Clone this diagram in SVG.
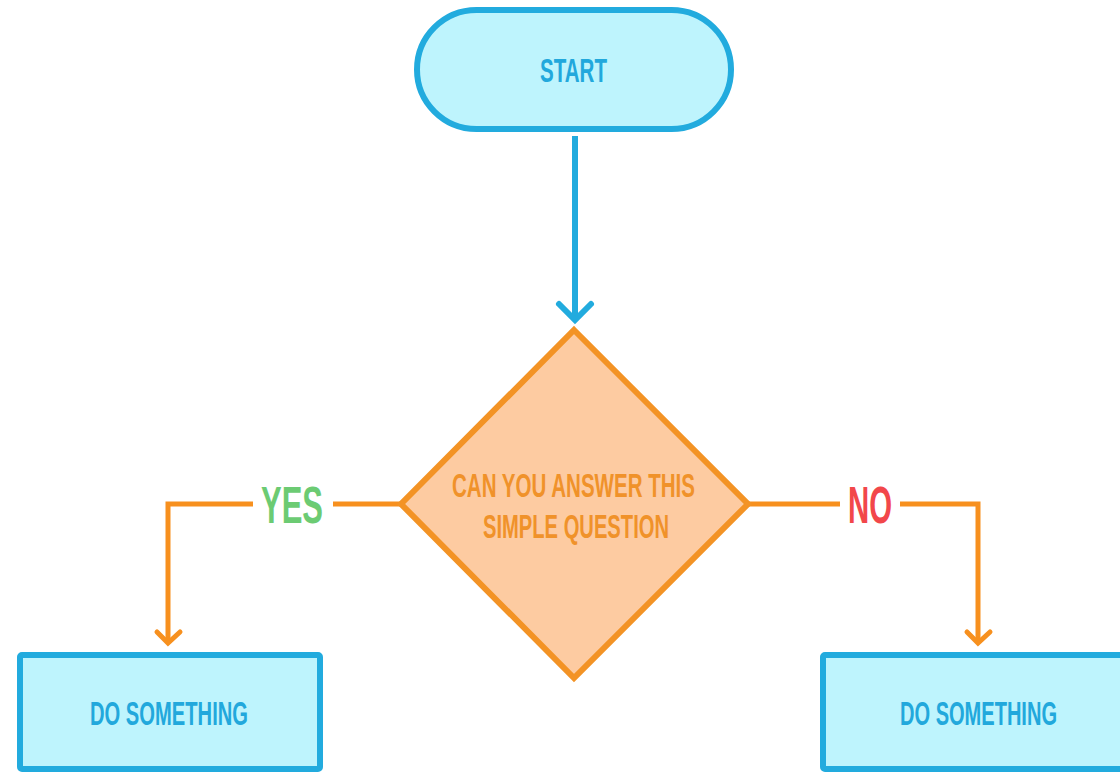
<svg xmlns="http://www.w3.org/2000/svg" width="1120" height="773" viewBox="0 0 1120 773">
<style>
.box{fill:#BEF4FD;stroke:#22ABDE;stroke-width:6}
.dia{fill:#FDCBA1;stroke:#F39325;stroke-width:6;stroke-linejoin:miter}
.t{font-family:"Liberation Sans",Arial,sans-serif;font-weight:bold;text-anchor:middle}
.bt{fill:#22A8DC;font-size:34px}
.ot{fill:#F0922A;font-size:34px}
.bl{fill:none;stroke:#22ABDE;stroke-width:6}
.ol{fill:none;stroke:#F7901E;stroke-width:5}
</style>
<rect width="1120" height="773" fill="#ffffff"/>
<g id="connectors">
  <line class="bl" x1="575" y1="136" x2="575" y2="318"/>
  <polyline class="bl" points="559,304 575,320 591,304" stroke-linecap="round"/>
  <polyline class="ol" points="401,504 333,504"/>
  <polyline class="ol" points="253,504 168,504 168,643"/>
  <polyline class="ol" points="157,632 168,643 180,632" stroke-linecap="round"/>
  <polyline class="ol" points="748,504 840,504"/>
  <polyline class="ol" points="900,504 978,504 978,643"/>
  <polyline class="ol" points="967,632 978,643 990,632" stroke-linecap="round"/>
  <text class="t" x="292" y="523" font-size="52" fill="#6CCB73" textLength="62" lengthAdjust="spacingAndGlyphs">YES</text>
  <text class="t" x="870" y="523" font-size="52" fill="#F2474A" textLength="44" lengthAdjust="spacingAndGlyphs">NO</text>
</g>
<g id="start">
  <rect class="box" x="417" y="10" width="314" height="119" rx="59.5"/>
  <text class="t bt" x="573.5" y="82" textLength="67" lengthAdjust="spacingAndGlyphs">START</text>
</g>
<g id="decision">
  <polygon class="dia" points="574,330 748,504 574,678 401,504"/>
  <text class="t ot" x="573.5" y="497" textLength="243" lengthAdjust="spacingAndGlyphs">CAN YOU ANSWER THIS</text>
  <text class="t ot" x="576" y="538" textLength="186" lengthAdjust="spacingAndGlyphs">SIMPLE QUESTION</text>
</g>
<g id="do-left">
  <rect class="box" x="20" y="655" width="300" height="114" rx="2"/>
  <text class="t bt" x="169" y="725" textLength="158" lengthAdjust="spacingAndGlyphs">DO SOMETHING</text>
</g>
<g id="do-right">
  <rect class="box" x="823" y="655" width="310" height="114" rx="2"/>
  <text class="t bt" x="978.5" y="725" textLength="157" lengthAdjust="spacingAndGlyphs">DO SOMETHING</text>
</g>
</svg>
